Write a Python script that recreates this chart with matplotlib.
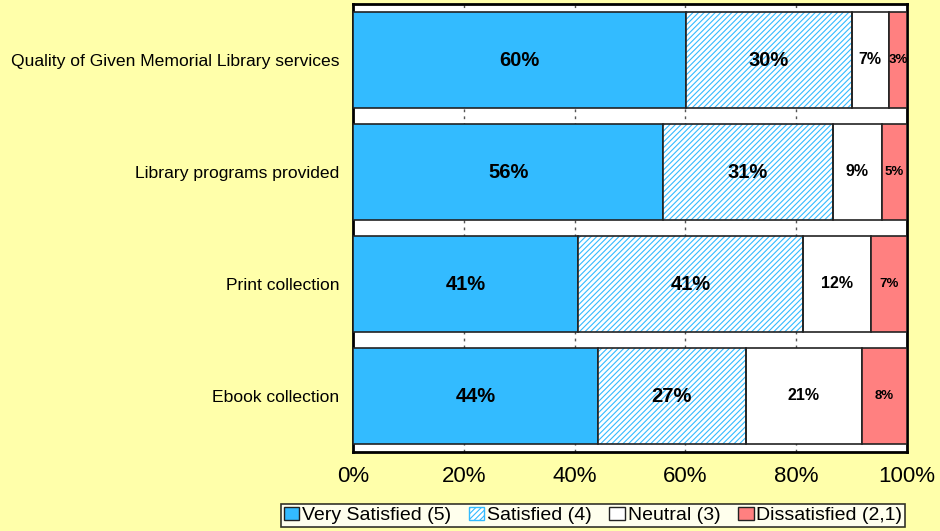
import matplotlib
matplotlib.use("Agg")
import matplotlib.pyplot as plt
from matplotlib.patches import Patch
import numpy as np

categories = ["Quality of Given Memorial Library services", "Library programs provided",
              "Print collection", "Ebook collection"]
very_satisfied = [60.1, 56.0, 40.6, 44.2]
satisfied = [29.9, 30.6, 40.6, 26.7]
neutral = [6.7, 8.9, 12.3, 21.0]
dissatisfied = [3.3, 4.5, 6.5, 8.1]
vs_labels = ["60%", "56%", "41%", "44%"]
s_labels = ["30%", "31%", "41%", "27%"]
n_labels = ["7%", "9%", "12%", "21%"]
d_labels = ["3%", "5%", "7%", "8%"]
series_names = ["Very Satisfied (5)", "Satisfied (4)", "Neutral (3)", "Dissatisfied (2,1)"]
x_ticks = [0, 20, 40, 60, 80, 100]

plt.rcParams['font.family'] = ['Liberation Sans', 'DejaVu Sans']
plt.rcParams['hatch.linewidth'] = 0.8

BG = "#FFFFAA"
BLUE = "#33BBFF"
RED = "#FF8080"
EDGE = "#222222"

fig = plt.figure(figsize=(9.4, 5.31), dpi=100, facecolor=BG)
ax = fig.add_axes([353/940, 1-452/531, 554/940, 448/531])
ax.set_facecolor("white")

y = np.arange(len(categories))
h = 0.85
vs = np.array(very_satisfied); s = np.array(satisfied)
n = np.array(neutral); d = np.array(dissatisfied)

ax.barh(y, vs, height=h, color=BLUE, edgecolor=EDGE, linewidth=1.2, zorder=3)
ax.barh(y, s, left=vs, height=h, color="white", edgecolor=BLUE, hatch="//////", linewidth=0, zorder=3)
ax.barh(y, s, left=vs, height=h, fill=False, edgecolor=EDGE, linewidth=1.2, zorder=4)
ax.barh(y, n, left=vs+s, height=h, color="white", edgecolor=EDGE, linewidth=1.2, zorder=3)
ax.barh(y, d, left=vs+s+n, height=h, color=RED, edgecolor=EDGE, linewidth=1.2, zorder=3)

for i in range(len(categories)):
    ax.text(vs[i]/2, y[i], vs_labels[i], ha="center", va="center", fontsize=14.5, fontweight="bold", zorder=5)
    ax.text(vs[i]+s[i]/2, y[i], s_labels[i], ha="center", va="center", fontsize=14.5, fontweight="bold", zorder=5)
    ax.text(vs[i]+s[i]+n[i]/2, y[i], n_labels[i], ha="center", va="center", fontsize=11.5, fontweight="bold", zorder=5)
    ax.text(vs[i]+s[i]+n[i]+d[i]/2, y[i], d_labels[i], ha="center", va="center", fontsize=9.5, fontweight="bold", zorder=5)

ax.set_xlim(0, 100)
ax.set_ylim(len(categories)-0.5, -0.5)
ax.set_xticks(x_ticks)
ax.set_xticklabels([f"{t}%" for t in x_ticks], fontsize=16)
ax.set_yticks(y)
ax.set_yticklabels(categories, fontsize=12.6)
ax.tick_params(axis="both", length=0)
ax.tick_params(axis="x", pad=10)
ax.tick_params(axis="y", pad=10)
for t in [20, 40, 60, 80]:
    ax.axvline(t, color="#555555", linestyle=(0, (2, 3)), linewidth=1, zorder=1)
for sp in ax.spines.values():
    sp.set_linewidth(2)
    sp.set_color("black")

handles = [Patch(facecolor=BLUE, edgecolor=EDGE),
           Patch(facecolor="white", edgecolor=BLUE, hatch="//////"),
           Patch(facecolor="white", edgecolor=EDGE),
           Patch(facecolor=RED, edgecolor=EDGE)]
leg = fig.legend(handles, series_names, loc="center", bbox_to_anchor=(593/940, 1-515.5/531),
                 ncol=4, fontsize=14, frameon=True, fancybox=False, edgecolor="black",
                 facecolor="white", handlelength=0.8, handleheight=0.7, handletextpad=0.15,
                 columnspacing=0.9, borderpad=0.12, borderaxespad=0)
leg.get_frame().set_linewidth(1.2)

fig.savefig("out.png", dpi=100, facecolor=BG)
